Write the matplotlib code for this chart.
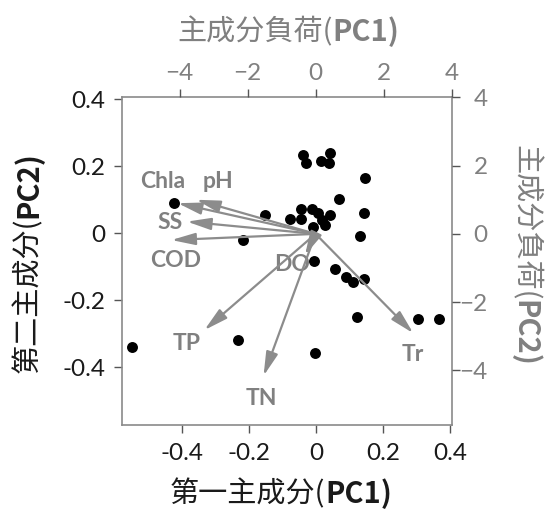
import matplotlib
matplotlib.use('Agg')
import matplotlib.pyplot as plt

# 样点得分 (PC1, PC2)
pc1 = [-0.55, -0.425, -0.153, -0.218, -0.234, -0.078, -0.046, -0.046, -0.038, -0.030,
       0.014, 0.042, 0.037, -0.013, 0.007, 0.017, 0.042, 0.027, -0.008, 0.067,
       0.145, 0.142, 0.132, -0.005, 0.057, 0.090, 0.110, 0.144, 0.122, 0.303,
       0.366, -0.003]
pc2 = [-0.338, 0.090, 0.055, -0.021, -0.318, 0.042, 0.072, 0.042, 0.234, 0.209,
       0.217, 0.241, 0.209, 0.072, 0.060, 0.040, 0.055, 0.025, 0.018, 0.104,
       0.166, 0.061, -0.008, -0.083, -0.107, -0.131, -0.144, -0.137, -0.251, -0.257,
       -0.255, -0.356]

# 变量负荷
var_names = ['Chla', 'pH', 'SS', 'COD', 'DO', 'TP', 'TN', 'Tr']
load1 = [-4.05, -3.51, -3.78, -4.24, -0.31, -3.27, -1.53, 2.87]
load2 = [0.90, 1.00, 0.36, -0.18, -0.62, -2.82, -4.16, -2.91]
# 标签位置
lab1 = [-4.49, -2.88, -4.29, -4.11, -0.68, -3.78, -1.59, 2.85]
lab2 = [1.53, 1.53, 0.33, -0.79, -0.91, -3.21, -4.82, -3.52]

xticks = [-0.4, -0.2, 0, 0.2, 0.4]
yticks = [-0.4, -0.2, 0, 0.2, 0.4]
tick_lab = ['-0.4', '-0.2', '0', '0.2', '0.4']
lticks = [-4, -2, 0, 2, 4]

grey = '#808080'
cjk = ['Noto Sans CJK SC', 'DejaVu Sans']

fig = plt.figure(figsize=(5.48, 5.11), dpi=100)
pos = [122 / 548, 1 - 425 / 511, (451.7 - 122) / 548, (425 - 96.7) / 511]

ax = fig.add_axes(pos)
ax.scatter(pc1, pc2, s=62, c='black', linewidths=0, zorder=3)
ax.set_xlim(-0.58, 0.405)
ax.set_ylim(-0.572, 0.408)
ax.set_xticks(xticks)
ax.set_xticklabels(tick_lab)
ax.set_yticks(yticks)
ax.set_yticklabels(tick_lab)
for s in ax.spines.values():
    s.set_color('#8a8a8a')
    s.set_linewidth(1.2)
ax.tick_params(axis='both', direction='out', length=6, width=1, color='#555555',
               labelsize=17.5, labelcolor='#1a1a1a')
ax.tick_params(axis='x', pad=7)
ax.tick_params(axis='y', pad=6)
for t in ax.get_xticklabels() + ax.get_yticklabels():
    t.set_family('Lato')

# 负荷轴
ax2 = fig.add_axes(pos, frameon=False)
ax2.patch.set_alpha(0)
ax2.xaxis.tick_top()
ax2.yaxis.tick_right()
ax2.set_xlim(-5.69, 3.97)
ax2.set_ylim(-5.6, 4.02)
ax2.set_xticks(lticks)
ax2.set_yticks(lticks)
ax2.tick_params(axis='both', direction='out', length=6, width=1, color='#555555',
                labelsize=17.5, labelcolor=grey)
ax2.tick_params(axis='x', pad=3)
ax2.tick_params(axis='y', pad=20)
for t in ax2.get_xticklabels() + ax2.get_yticklabels():
    t.set_family('Lato')
for t in ax2.get_yticklabels():
    t.set_horizontalalignment('right')

for i in range(len(var_names)):
    ax2.annotate('', xy=(load1[i], load2[i]), xytext=(0, 0),
                 arrowprops=dict(arrowstyle='-|>,head_length=0.8,head_width=0.2',
                                 color='#8c8c8c', lw=1.6, shrinkA=0, shrinkB=0,
                                 mutation_scale=18))
    ax2.text(lab1[i], lab2[i], var_names[i], color=grey, fontsize=16.5,
             fontweight='bold', family='Lato', ha='center', va='center')


def two_part(x, y, a, b, color, rot):
    kw = dict(family=cjk, fontsize=21, color=color)
    if rot == 0:
        t1 = fig.text(x, y, a, ha='left', va='center', **kw)
        ax.annotate(b, xy=(1, 0), xycoords=t1, ha='left', va='bottom',
                    fontweight='bold', annotation_clip=False, **kw)
    elif rot == 90:
        t1 = fig.text(x, y, a, ha='center', va='bottom', rotation=90, **kw)
        ax.annotate(b, xy=(0.5, 1), xycoords=t1, ha='center', va='bottom',
                    fontweight='bold', rotation=90, annotation_clip=False, **kw)
    else:
        t1 = fig.text(x, y, a, ha='center', va='top', rotation=270, **kw)
        ax.annotate(b, xy=(0.5, 0), xycoords=t1, ha='center', va='top',
                    fontweight='bold', rotation=270, annotation_clip=False, **kw)


two_part(170 / 548, 1 - 494 / 511, '第一主成分(', 'PC1)', '#1a1a1a', 0)
two_part(177 / 548, 1 - 32 / 511, '主成分負荷(', 'PC1)', grey, 0)
two_part(28 / 548, 1 - 373 / 511, '第二主成分(', 'PC2)', '#1a1a1a', 90)
two_part(525 / 548, 1 - 145 / 511, '主成分負荷(', 'PC2)', grey, 270)

fig.savefig('out.png', dpi=100)
